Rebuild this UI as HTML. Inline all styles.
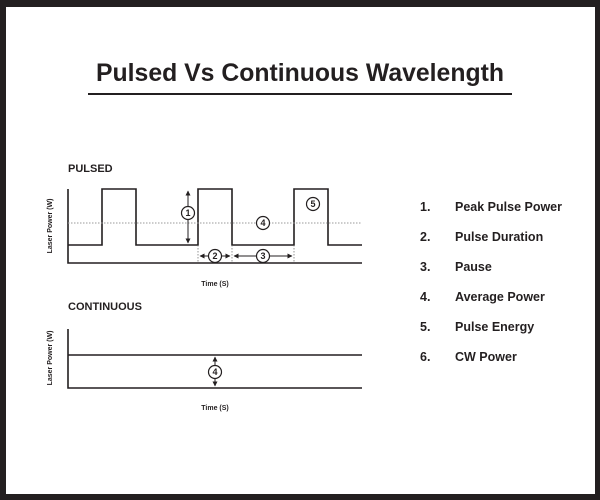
<!DOCTYPE html>
<html><head><style>body{margin:0}svg{display:block}</style></head><body>
<svg width="600" height="500" viewBox="0 0 600 500" xmlns="http://www.w3.org/2000/svg" font-family="Liberation Sans, sans-serif">
<defs>
<marker id="a" viewBox="0 0 10 10" refX="9" refY="5" markerWidth="5" markerHeight="5" orient="auto-start-reverse"><path d="M0,0L10,5L0,10z" fill="#231f20"/></marker>
</defs>
<rect width="600" height="500" fill="#231f20"/>
<rect x="6" y="7" width="589" height="487" fill="#fff"/>
<text x="96" y="81" font-size="25" font-weight="bold" fill="#231f20" textLength="408" lengthAdjust="spacingAndGlyphs">Pulsed Vs Continuous Wavelength</text>
<rect x="88" y="93" width="424" height="2" fill="#231f20"/>
<g fill="#231f20" font-weight="bold">
<text x="68" y="172" font-size="11">PULSED</text>
<text x="68" y="310" font-size="11">CONTINUOUS</text>
<text x="215" y="286" font-size="7" text-anchor="middle">Time (S)</text>
<text x="215" y="410" font-size="7" text-anchor="middle">Time (S)</text>
<text transform="translate(52,226) rotate(-90)" font-size="7" text-anchor="middle">Laser Power (W)</text>
<text transform="translate(52,358) rotate(-90)" font-size="7" text-anchor="middle">Laser Power (W)</text>
<g font-size="12.5">
<text x="420" y="211">1.</text><text x="455" y="211">Peak Pulse Power</text>
<text x="420" y="241">2.</text><text x="455" y="241">Pulse Duration</text>
<text x="420" y="271">3.</text><text x="455" y="271">Pause</text>
<text x="420" y="301">4.</text><text x="455" y="301">Average Power</text>
<text x="420" y="331">5.</text><text x="455" y="331">Pulse Energy</text>
<text x="420" y="361">6.</text><text x="455" y="361">CW Power</text>
</g>
</g>
<g stroke="#231f20" fill="none" stroke-width="1.6">
<path d="M68,189V263H362"/>
<path d="M68,245H102V189H136V245H198V189H232V245H294V189H328V245H362"/>
<path d="M68,329V388H362M68,355H362"/>
<line x1="68" y1="223" x2="362" y2="223" stroke="#999" stroke-width="1" stroke-dasharray="1.5,1.5"/>
<g stroke-width="0.7" stroke-dasharray="1.5,1.5" stroke="#666"><path d="M198,245V263M232,245V263M294,245V263"/></g>
<g stroke-width="1"><line x1="188" y1="191" x2="188" y2="243" marker-start="url(#a)" marker-end="url(#a)"/>
<line x1="200" y1="256" x2="230" y2="256" marker-start="url(#a)" marker-end="url(#a)"/>
<line x1="234" y1="256" x2="292" y2="256" marker-start="url(#a)" marker-end="url(#a)"/>
<line x1="215" y1="357" x2="215" y2="386" marker-start="url(#a)" marker-end="url(#a)"/></g>
</g>
<g stroke="#231f20" stroke-width="1.2" fill="#fff">
<circle cx="188" cy="213" r="6.5"/><circle cx="215" cy="256" r="6.5"/><circle cx="263" cy="256" r="6.5"/>
<circle cx="263" cy="223" r="6.5"/><circle cx="313" cy="204" r="6.5"/><circle cx="215" cy="372" r="6.5"/>
</g>
<g fill="#231f20" font-size="9" font-weight="bold" text-anchor="middle">
<text x="188" y="216">1</text><text x="215" y="259">2</text><text x="263" y="259">3</text>
<text x="263" y="226">4</text><text x="313" y="207">5</text><text x="215" y="375">4</text>
</g>
</svg>
</body></html>
